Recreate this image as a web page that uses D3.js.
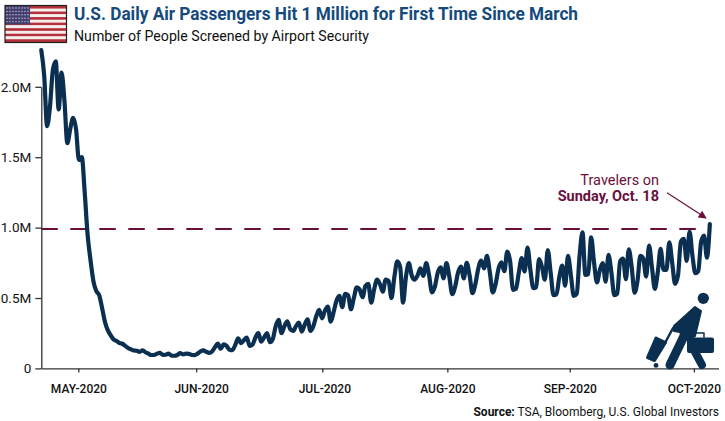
<!DOCTYPE html>
<html>
<head>
<meta charset="utf-8">
<script src="https://cdn.jsdelivr.net/npm/d3@7"></script>
<style>
html, body { margin: 0; padding: 0; background: #fff; }
svg { display: block; }
text { font-family: Roboto, sans-serif; }
</style>
</head>
<body>
<div id="chart"></div>
<script>
// daily passengers, millions
const passengers = [
    2.26, 2.08, 1.72, 1.86, 2.12, 2.18, 1.84, 2.10, 1.90, 1.60,
    1.70, 1.78, 1.70, 1.48, 1.50, 1.25, .95, .77, .62, .55,
    .52, .43, .33, .27, .235, .205, .195, .18, .175, .16,
    .145, .135, .127, .125, .118, .128, .115, .105, .095, .095,
    .105, .11, .096, .097, .105, .09, .09, .095, .108, .10,
    .105, .103, .095, .094, .105, .12, .128, .118, .11, .12,
    .15, .176, .14, .17, .16, .133, .13, .165, .214, .18,
    .20, .219, .16, .17, .22, .25, .19, .22, .25, .186,
    .21, .30, .344, .25, .30, .335, .28, .266, .30, .325,
    .261, .31, .349, .266, .30, .37, .415, .356, .41, .439,
    .332, .40, .48, .515, .435, .53, .52, .42, .50, .575,
    .56, .506, .585, .60, .467, .56, .63, .60, .545, .63,
    .62, .50, .65, .76, .72, .467, .65, .747, .66, .63,
    .66, .71, .657, .747, .66, .54, .58, .68, .718, .64,
    .747, .65, .527, .58, .68, .723, .64, .75, .66, .534,
    .60, .71, .766, .71, .80, .68, .54, .60, .71, .754,
    .69, .83, .76, .558, .565, .68, .783, .688, .858, .70,
    .57, .575, .776, .72, .63, .84, .68, .52, .525, .65,
    .73, .588, .80, .66, .515, .53, .80, .967, .664, .67,
    .93, .75, .61, .70, .747, .616, .806, .68, .52, .53,
    .76, .78, .633, .846, .72, .538, .62, .80, .78, .652,
    .872, .72, .565, .68, .849, .70, .70, .896, .75, .60,
    .66, .90, .92, .763, .972, .80, .676, .69, .90, .943,
    .787, 1.024
];
const yTicks = [0, 0.5, 1, 1.5, 2];
const monthLabels = ["MAY-2020", "JUN-2020", "JUL-2020", "AUG-2020", "SEP-2020", "OCT-2020"];
const monthDays = [12.8, 53.5, 97.1, 140.3, 182.6, 225.5]; // where the labelled ticks sit in the series
const millionLine = 0.99;

const NAVY = "#0a2f50", WINE = "#6a0f3c", BLUE = "#144a7c", INK = "#111";

const svg = d3.select("#chart").append("svg").attr("width", 725).attr("height", 421);

const x = d3.scaleLinear().domain([0, 234]).range([41.3, 718.5]);
const y = d3.scaleLinear().domain([0, 2]).range([368.4, 86.8]);

// flag
const flag = svg.append("g");
const stripeH = d3.scaleBand().domain(d3.range(13)).range([6, 42]);
flag.selectAll(".stripe").data(d3.range(13)).enter().append("rect")
    .attr("x", 5).attr("width", 61)
    .attr("y", function (d) { return stripeH(d); })
    .attr("height", stripeH.bandwidth())
    .attr("fill", function (d) { return d % 2 ? "#f4efee" : "#b5303c"; });
flag.append("rect").attr("x", 5).attr("y", 6).attr("width", 25).attr("height", 18.5).attr("fill", "#44406f");
d3.range(5).forEach(function (r) {
    d3.range(8).forEach(function (c) {
        flag.append("circle").attr("cx", 7 + c * 3).attr("cy", 8 + r * 3.4).attr("r", 0.7).attr("fill", "#cfcde0");
    });
});
flag.append("rect").attr("x", 5).attr("y", 5.5).attr("width", 61.5).attr("height", 37)
    .attr("fill", "none").attr("stroke", "#222").attr("stroke-width", 1.2);

// titles
svg.append("text").attr("x", 74).attr("y", 20).attr("fill", BLUE)
    .attr("font-size", 17.5).attr("font-weight", "bold")
    .attr("textLength", 504).attr("lengthAdjust", "spacingAndGlyphs")
    .text("U.S. Daily Air Passengers Hit 1 Million for First Time Since March");
svg.append("text").attr("x", 74).attr("y", 40.5).attr("fill", INK)
    .attr("font-size", 14.5)
    .attr("textLength", 295).attr("lengthAdjust", "spacingAndGlyphs")
    .text("Number of People Screened by Airport Security");

// axes
const yAxis = d3.axisLeft(y).tickValues(yTicks).tickSize(6).tickSizeOuter(0).tickPadding(4)
    .tickFormat(function (d) { return d === 0 ? "0" : d.toFixed(1) + "M"; });
const gy = svg.append("g").attr("transform", "translate(41.3,0)").call(yAxis);
gy.selectAll("text").attr("font-size", 13.5).attr("fill", INK)
    .style("font-family", "Roboto, sans-serif");

const xAxis = d3.axisBottom(x).tickValues(monthDays).tickSize(4).tickSizeOuter(0).tickPadding(12)
    .tickFormat(function (d, i) { return monthLabels[i]; });
const gx = svg.append("g").attr("transform", "translate(0,368.4)").call(xAxis);
const labelNudge = [0, 5, 2, 0, 0, 0];
gx.selectAll("text").attr("font-size", 12).attr("fill", INK).attr("font-weight", 500)
    .attr("dx", function (d, i) { return labelNudge[i]; })
    .style("font-family", "Roboto, sans-serif");
svg.selectAll(".domain, .tick line").attr("stroke", "#333").attr("stroke-width", 1.3);

// 1M reference
svg.append("line")
    .attr("x1", x(0)).attr("x2", x(passengers.length - 1))
    .attr("y1", y(millionLine)).attr("y2", y(millionLine))
    .attr("stroke", WINE).attr("stroke-width", 2)
    .attr("stroke-dasharray", "16.5,12.5");

// series
const line = d3.line()
    .x(function (d, i) { return x(i); })
    .y(function (d) { return y(d); })
    .curve(d3.curveMonotoneX);
svg.append("path").datum(passengers)
    .attr("d", line)
    .attr("fill", "none").attr("stroke", NAVY).attr("stroke-width", 4.2)
    .attr("stroke-linejoin", "round").attr("stroke-linecap", "round");

// annotation
svg.append("text").attr("x", 659).attr("y", 185).attr("text-anchor", "end").attr("fill", WINE)
    .attr("font-size", 14.5).text("Travelers on");
svg.append("text").attr("x", 659).attr("y", 201).attr("text-anchor", "end").attr("fill", WINE)
    .attr("font-size", 14.5).attr("font-weight", "bold").text("Sunday, Oct. 18");
svg.append("defs").append("marker").attr("id", "head")
    .attr("viewBox", "0 0 10 10").attr("refX", 9).attr("refY", 5)
    .attr("markerWidth", 9).attr("markerHeight", 8).attr("orient", "auto").attr("markerUnits", "userSpaceOnUse")
    .append("path").attr("d", "M0,0L10,5L0,10Z").attr("fill", WINE);
svg.append("line").attr("x1", 667).attr("y1", 192.7).attr("x2", 706).attr("y2", 218)
    .attr("stroke", WINE).attr("stroke-width", 1.2).attr("marker-end", "url(#head)");

// traveler icon
const icon = svg.append("g").attr("fill", NAVY).attr("stroke", NAVY).attr("stroke-linecap", "round").attr("stroke-linejoin", "round");
icon.append("circle").attr("cx", 703.3).attr("cy", 298.3).attr("r", 5.6).attr("stroke", "none");
// torso and upper arm as one wedge
icon.append("path").attr("d", "M674,326L695,307L701,311L695,336L684,340L680,332L674,331Z").attr("stroke-width", 2);
icon.append("path").attr("d", "M673,328L665,343").attr("fill", "none").attr("stroke-width", 2.4);
// legs
icon.append("path").attr("d", "M684,336L670,365").attr("fill", "none").attr("stroke-width", 9);
icon.append("path").attr("d", "M695,352L702,365").attr("fill", "none").attr("stroke-width", 8);
// briefcase
icon.append("path").attr("d", "M694,337V333H704V337").attr("fill", "none").attr("stroke-width", 1.5);
icon.append("rect").attr("x", 687).attr("y", 337.5).attr("width", 27).attr("height", 15.5).attr("rx", 2).attr("stroke", "none");
// suitcase
icon.append("path").attr("d", "M656,338L665.5,342.5L654.5,360.5L647.5,357.5Z").attr("stroke-width", 3);
icon.append("circle").attr("cx", 656).attr("cy", 365.4).attr("r", 2.4).attr("stroke", "none");

// source
const src = svg.append("text").attr("x", 719).attr("y", 415.5).attr("text-anchor", "end").attr("fill", INK)
    .attr("font-size", 12);
src.append("tspan").attr("font-weight", "bold").text("Source:");
src.append("tspan").text(" TSA, Bloomberg, U.S. Global Investors");
</script>
</body>
</html>
